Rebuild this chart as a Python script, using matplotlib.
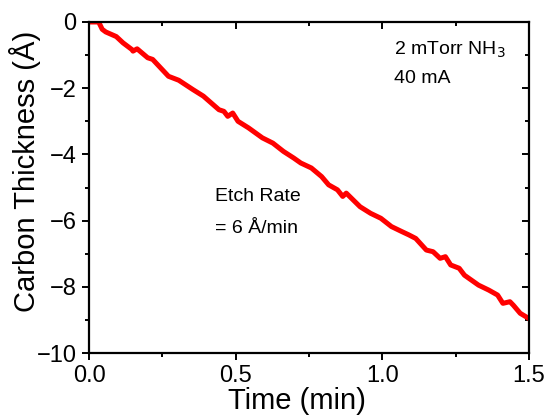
import matplotlib
matplotlib.use("Agg")
import matplotlib.pyplot as plt
from matplotlib.ticker import MultipleLocator

plt.rcParams['font.family'] = ['Liberation Sans', 'DejaVu Sans']

time_min = [0.0, 0.033, 0.045, 0.057, 0.093, 0.116, 0.146, 0.150, 0.164, 0.200, 0.217,
            0.271, 0.306, 0.354, 0.390, 0.443, 0.460, 0.473, 0.490, 0.508, 0.544,
            0.591, 0.627, 0.663, 0.698, 0.722, 0.758, 0.793, 0.817, 0.847, 0.865,
            0.877, 0.924, 0.960, 0.995, 1.031, 1.066, 1.090, 1.114, 1.150, 1.173,
            1.197, 1.215, 1.233, 1.262, 1.280, 1.328, 1.363, 1.393, 1.411, 1.435,
            1.447, 1.470, 1.500]
thickness = [0.0, 0.0, -0.22, -0.30, -0.44, -0.63, -0.83, -0.88, -0.81, -1.08, -1.13,
             -1.64, -1.76, -2.04, -2.24, -2.65, -2.70, -2.85, -2.75, -3.00, -3.20,
             -3.50, -3.66, -3.91, -4.11, -4.26, -4.41, -4.67, -4.92, -5.07, -5.27,
             -5.17, -5.58, -5.78, -5.93, -6.18, -6.33, -6.43, -6.54, -6.89, -6.94,
             -7.14, -7.09, -7.34, -7.44, -7.65, -7.95, -8.10, -8.25, -8.50, -8.45,
             -8.56, -8.80, -8.96]

x_ticks = [0.0, 0.5, 1.0, 1.5]
x_tick_labels = ['0.0', '0.5', '1.0', '1.5']
y_ticks = [0, -2, -4, -6, -8, -10]
y_tick_labels = ['0', '\u22122', '\u22124', '\u22126', '\u22128', '\u221210']

fig = plt.figure(figsize=(5.44, 4.17), dpi=100)
ax = fig.add_axes([89/544, 1 - 353/417, 440/544, 331/417])

ax.plot(time_min, thickness, color='#ff0000', lw=3.6, solid_joinstyle='round')

ax.set_xlim(0, 1.5)
ax.set_ylim(-10, 0)
ax.set_xticks(x_ticks)
ax.set_xticklabels(x_tick_labels)
ax.set_yticks(y_ticks)
ax.set_yticklabels(y_tick_labels)
ax.xaxis.set_minor_locator(MultipleLocator(0.25))
ax.yaxis.set_minor_locator(MultipleLocator(1))

for s in ax.spines.values():
    s.set_linewidth(1.6)

ax.tick_params(which='both', labelsize=17, width=1.4, color='black')
ax.tick_params(axis='both', which='major', length=5, direction='out', pad=4)
ax.tick_params(axis='both', which='minor', length=3, direction='out')
ax.tick_params(axis='x', which='both', top=False)
ax.tick_params(axis='y', which='both', right=False)

ax2 = ax.secondary_xaxis('top')
ax2.set_xticks(x_ticks)
ax2.set_xticklabels([])
ax2.xaxis.set_minor_locator(MultipleLocator(0.25))
ax2.tick_params(which='major', direction='in', length=5, width=1.4)
ax2.tick_params(which='minor', direction='in', length=3, width=1.4)
ax2.spines['top'].set_visible(False)

ax3 = ax.secondary_yaxis('right')
ax3.set_yticks(y_ticks)
ax3.set_yticklabels([])
ax3.yaxis.set_minor_locator(MultipleLocator(1))
ax3.tick_params(which='major', direction='in', length=5, width=1.4)
ax3.tick_params(which='minor', direction='in', length=3, width=1.4)
ax3.spines['right'].set_visible(False)

ax.set_ylabel('Carbon Thickness (\u00c5)', fontsize=21, va='center')
ax.yaxis.set_label_coords((25 - 89) / 440, (353 - 171) / 331)
ax.set_xlabel('Time (min)', fontsize=21, va='baseline')
ax.xaxis.set_label_coords((297 - 89) / 440, (353 - 409) / 331)

ax.text((394 - 89) / 440, (353 - 55) / 331, '2 mTorr NH$_3$', transform=ax.transAxes,
        fontsize=14, va='baseline', ha='left')
ax.text((394 - 89) / 440, (353 - 83) / 331, '40 mA', transform=ax.transAxes,
        fontsize=14, va='baseline', ha='left')
ax.text((215 - 89) / 440, (353 - 200.7) / 331, 'Etch Rate', transform=ax.transAxes,
        fontsize=14, va='baseline', ha='left')
ax.text((215 - 89) / 440, (353 - 232.7) / 331, '= 6 \u00c5/min', transform=ax.transAxes,
        fontsize=14, va='baseline', ha='left')

fig.savefig('out.png', dpi=100)
